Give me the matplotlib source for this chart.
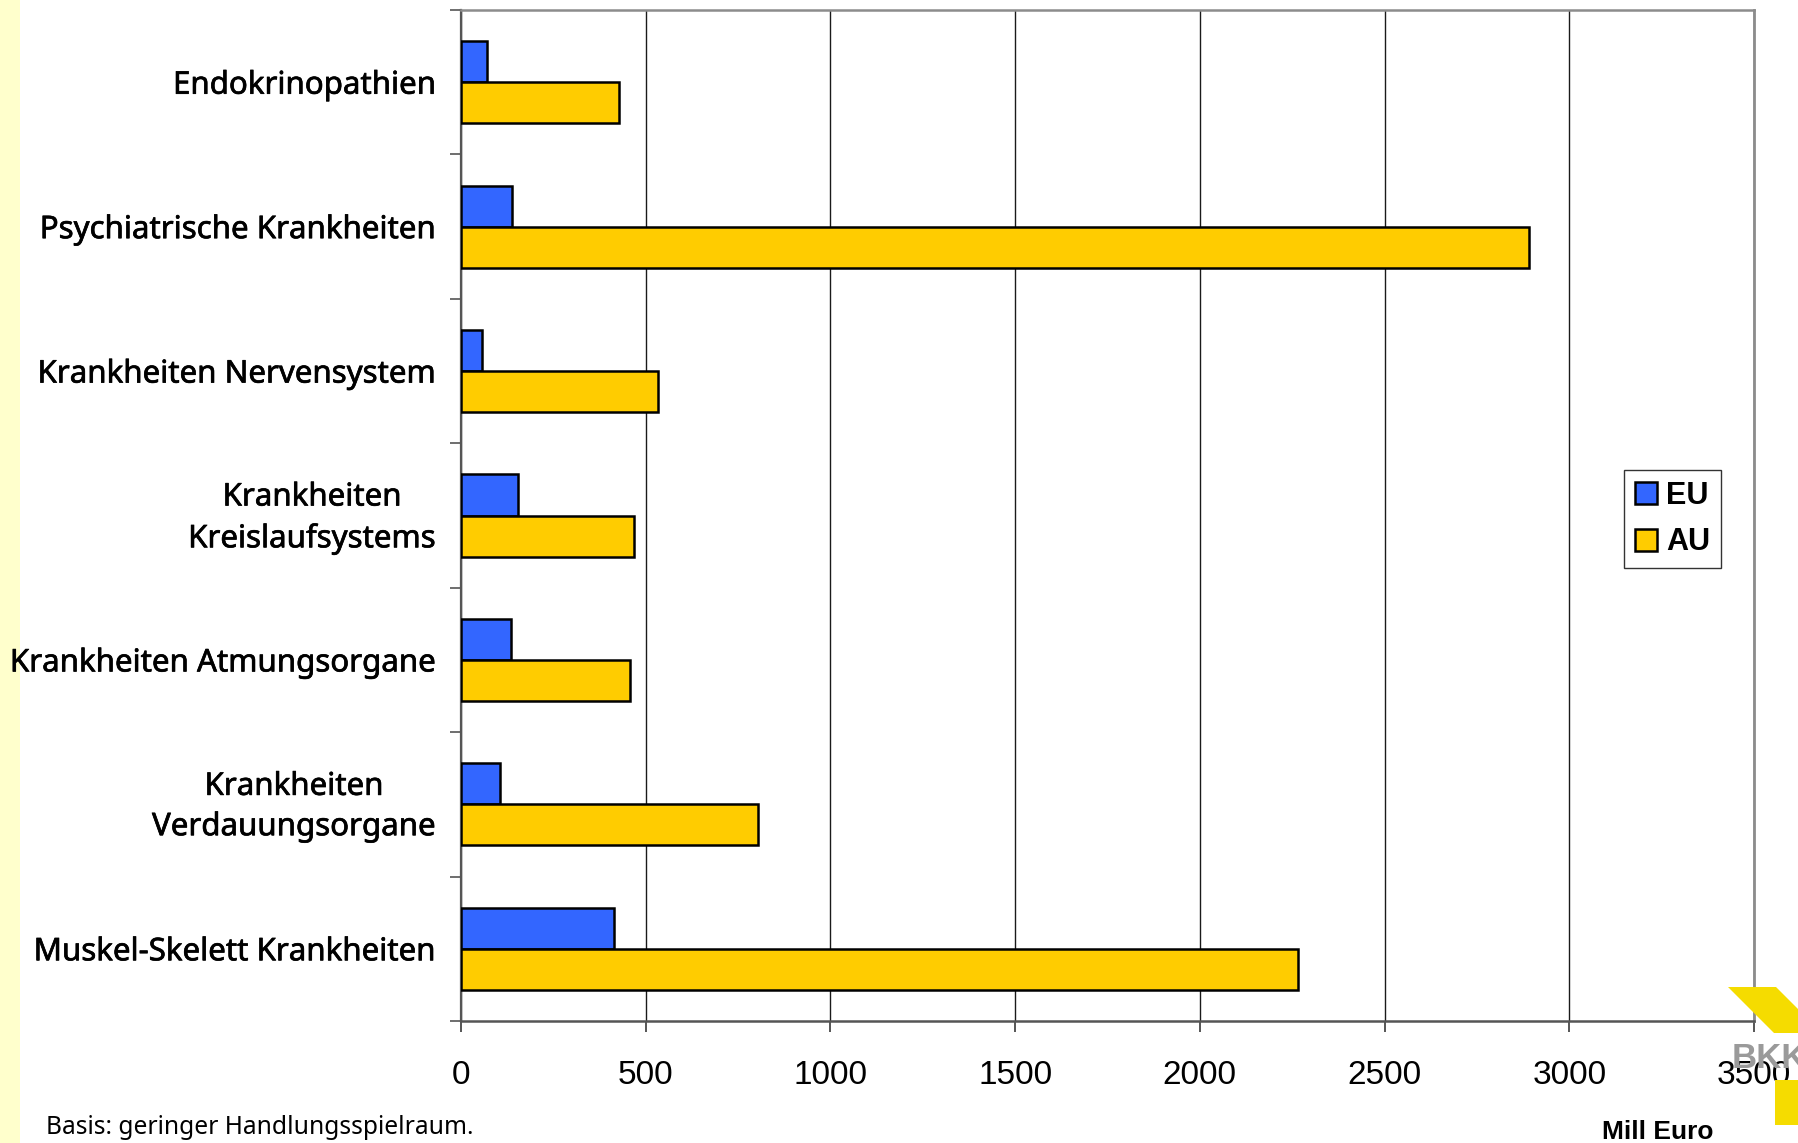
import matplotlib
matplotlib.use("Agg")
import matplotlib.pyplot as plt
import matplotlib.patheffects as pe
from matplotlib.patches import Rectangle, Polygon
from matplotlib.transforms import ScaledTranslation
import numpy as np

# Kosten in Mill Euro je Diagnosegruppe
categories = [
    "Endokrinopathien",
    "Psychiatrische Krankheiten",
    "Krankheiten Nervensystem",
    "Krankheiten\nKreislaufsystems",
    "Krankheiten Atmungsorgane",
    "Krankheiten\nVerdauungsorgane",
    "Muskel-Skelett Krankheiten",
]
eu_values = [70, 137, 57, 155, 136, 106, 414]
au_values = [428, 2891, 534, 469, 457, 804, 2267]
x_ticks = [0, 500, 1000, 1500, 2000, 2500, 3000, 3500]

W, H = 1798, 1143
fig = plt.figure(figsize=(W / 100, H / 100), dpi=100)
fig.patch.set_facecolor("white")

# pale yellow strip on the left edge
fig.add_artist(Rectangle((0, 0), 20 / W, 1, transform=fig.transFigure,
                         facecolor="#FFFFCC", edgecolor="none", zorder=0))

ax = fig.add_axes([461 / W, 1 - 1021 / H, (1754 - 461) / W, (1021 - 10) / H])

y = np.arange(len(categories))
h = 0.284
ax.barh(y - h / 2, eu_values, height=h, color="#3366FF", edgecolor="black",
        linewidth=1.8, label="EU", zorder=3)
ax.barh(y + h / 2, au_values, height=h, color="#FFCC00", edgecolor="black",
        linewidth=1.8, label="AU", zorder=3)

ax.set_xlim(0, 3500)
ax.set_ylim(len(categories) - 0.5, -0.5)

ax.set_xticks(x_ticks)
ax.set_xticklabels([str(v) for v in x_ticks], fontsize=24,
                   fontfamily="Liberation Sans")
ax.tick_params(axis="x", direction="out", length=8, width=1.4, color="#555555",
               pad=20)

ax.set_yticks(y)
ax.set_yticklabels(categories, fontsize=22.5, fontfamily="Noto Sans",
                   linespacing=1.45)
ax.tick_params(axis="y", which="major", length=0, pad=18)
ax.set_yticks(np.arange(-0.5, len(categories)), minor=True)
ax.tick_params(axis="y", which="minor", direction="out", length=8, width=1.2,
               color="#555555")

# slightly heavier strokes for the category names; two-line names centred
lift = ScaledTranslation(0, 6 / 100, fig.dpi_scale_trans)
for lbl in ax.get_yticklabels():
    lbl.set_multialignment("center")
    lbl.set_path_effects([pe.withStroke(linewidth=0.5, foreground="black")])
    if "\n" in lbl.get_text():
        lbl.set_transform(lbl.get_transform() + lift)

ax.xaxis.grid(True, color="#1A1A1A", linewidth=1.0, zorder=1)
ax.set_axisbelow(True)

ax.spines["left"].set_color("#555555")
ax.spines["left"].set_linewidth(1.6)
ax.spines["bottom"].set_color("#555555")
ax.spines["bottom"].set_linewidth(1.8)
ax.spines["top"].set_color("#8C8C8C")
ax.spines["top"].set_linewidth(1.8)
ax.spines["right"].set_color("#8C8C8C")
ax.spines["right"].set_linewidth(2.0)

leg = fig.legend(loc="upper left", bbox_to_anchor=(1624 / W, 1 - 470 / H),
                 prop={"family": "Liberation Sans", "weight": "bold", "size": 22},
                 frameon=True, fancybox=False, edgecolor="black",
                 handlelength=0.72, handleheight=0.72, handletextpad=0.3,
                 labelspacing=0.55, borderpad=0.35, borderaxespad=0)
leg.get_frame().set_linewidth(1.0)
for p in leg.get_patches():
    p.set_linewidth(1.8)

fig.text(46 / W, 1 - 1128 / H, "Basis: geringer Handlungsspielraum.",
         fontsize=17.7, fontfamily="Noto Sans", ha="left", va="center")
fig.text(1658 / W, 1 - 1132 / H, "Mill Euro", fontsize=19,
         fontfamily="Liberation Sans", fontweight="bold", ha="center",
         va="center")

# BKK logo fragment in the lower right corner
logo_yellow = "#F5DC00"
fig.add_artist(Polygon([(1728 / W, 1 - 987 / H), (1776 / W, 1 - 987 / H),
                        (1822 / W, 1 - 1033 / H), (1774 / W, 1 - 1033 / H)],
                       closed=True, transform=fig.transFigure,
                       facecolor=logo_yellow, edgecolor="none", zorder=1))
fig.add_artist(Rectangle((1775 / W, 1 - 1125 / H), 25 / W, 45 / H,
                         transform=fig.transFigure, facecolor=logo_yellow,
                         edgecolor="none", zorder=1))
fig.text(1732 / W, 1 - 1068 / H, "BKK", fontsize=25, color="#9A9A9A",
         fontfamily="Liberation Sans", fontweight="bold", ha="left",
         va="baseline", zorder=1)

fig.savefig("out.png", dpi=100)
